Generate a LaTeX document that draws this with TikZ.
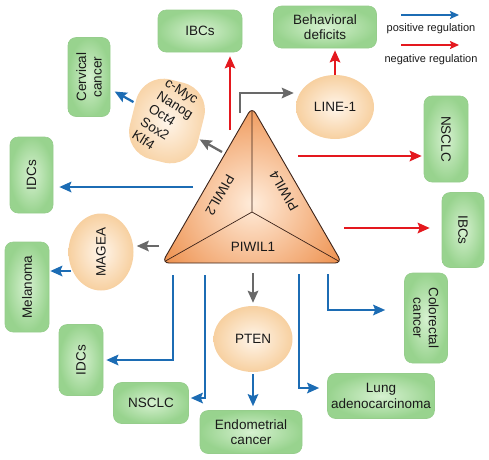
\documentclass[tikz,border=0pt]{standalone}
\usepackage{fontspec}
\setmainfont{Liberation Sans}
\usetikzlibrary{arrows.meta,calc,shapes.geometric}
\definecolor{cblue}{RGB}{28,108,180}
\definecolor{cred}{RGB}{228,24,30}
\definecolor{cgray}{RGB}{105,105,105}
\definecolor{greenin}{RGB}{214,241,208}
\definecolor{greenout}{RGB}{152,211,142}
\definecolor{boxline}{RGB}{150,205,140}
\definecolor{peachin}{RGB}{255,245,234}
\definecolor{peachout}{RGB}{247,208,160}
\definecolor{triin}{RGB}{255,236,218}
\definecolor{triout}{RGB}{238,146,80}
\definecolor{tridark}{RGB}{60,35,25}
\definecolor{txt}{RGB}{25,25,25}
\tikzset{
  box/.style={draw=boxline, line width=0.6pt, rounded corners=8pt,
    inner color=greenin, outer color=greenout, align=center, text=txt,
    font=\fontsize{13.5pt}{15.5pt}\selectfont, inner sep=2pt},
  blob/.style={draw=none, inner color=peachin, outer color=peachout,
    align=center, text=txt, font=\fontsize{13.5pt}{15.5pt}\selectfont, inner sep=0pt},
  trilabel/.style={text=txt, font=\fontsize{13.5pt}{15.5pt}\selectfont, inner sep=0pt},
  legendtext/.style={text=txt, font=\fontsize{11pt}{13pt}\selectfont, inner sep=0pt},
  arr/.style={line width=2.3pt, -{Stealth[length=12pt,width=10.5pt,inset=2pt]}},
  parr/.style={arr, draw=cblue},
  narr/.style={arr, draw=cred},
  garr/.style={arr, draw=cgray},
  legarr/.style={line width=1.6pt, -{Stealth[length=9pt,width=8pt,inset=1.5pt]}},
}
\begin{document}
\begin{tikzpicture}[x=1pt,y=-1pt]
\useasboundingbox (0,0) rectangle (489,459);

% ---------- green boxes ----------
\node[box, minimum width=84pt, minimum height=42pt] (ibcsT) at (200,31) {IBCs};
\node[box, rotate=90, minimum width=79pt, minimum height=42pt] (cerv) at (89,77) {Cervical\\cancer};
\node[box, rotate=90, minimum width=76pt, minimum height=43pt] (idcsL) at (31.5,175) {IDCs};
\node[box, minimum width=103pt, minimum height=42pt] (behav) at (325,27) {Behavioral\\deficits};
\node[box, rotate=-90, minimum width=86pt, minimum height=44pt] (nsclcR) at (446,139) {NSCLC};
\node[box, rotate=-90, minimum width=75pt, minimum height=42pt] (ibcsR) at (463,230) {IBCs};
\node[box, rotate=-90, minimum width=90pt, minimum height=43pt] (colo) at (426,318) {Colorectal\\cancer};
\node[box, minimum width=107pt, minimum height=45pt] (lung) at (381,396) {Lung\\adenocarcinoma};
\node[box, minimum width=102pt, minimum height=43pt] (endo) at (251,432) {Endometrial\\cancer};
\node[box, minimum width=75pt, minimum height=41pt] (nsclcB) at (151,403) {NSCLC};
\node[box, rotate=90, minimum width=71pt, minimum height=44pt] (idcsB) at (81,360) {IDCs};
\node[box, rotate=90, minimum width=90pt, minimum height=44pt] (mel) at (27,287) {Melanoma};

% ---------- peach blobs ----------
\node[blob, rotate=-14, rounded corners=28pt, minimum width=70pt, minimum height=82pt] (cmyc) at (167,121) {};
\node[trilabel, rotate=-32, align=left] (cmyct) at (167,118) {c-Myc\\Nanog\\Oct4\\Sox2\\Klf4};
\node[blob, ellipse, minimum width=78pt, minimum height=64pt] (line1) at (335,107) {LINE-1};
\node[blob, ellipse, rotate=90, minimum width=77pt, minimum height=65pt] (magea) at (101,252) {MAGEA};
\node[blob, ellipse, minimum width=79pt, minimum height=66pt] (pten) at (253,339) {PTEN};

% ---------- triangle ----------
\coordinate (tA) at (252,107);
\coordinate (tL) at (162,263);
\coordinate (tR) at (342,263);
\coordinate (tC) at (252,212);
\begin{scope}
  \clip[rounded corners=7pt] (tA) -- (tL) -- (tR) -- cycle;
  \shade[inner color=triin, outer color=triout] (252,203) circle (105pt);
  \draw[line width=0.7pt, tridark] (tC) -- (tA) (tC) -- (tL) (tC) -- (tR);
\end{scope}
\draw[line width=0.9pt, tridark, rounded corners=7pt] (tA) -- (tL) -- (tR) -- cycle;
\node[trilabel, rotate=-120] (p2) at (220,195) {PIWIL2};
\node[trilabel, rotate=120] (p4) at (284,191) {PIWIL4};
\node[trilabel] (p1) at (253,247) {PIWIL1};

% ---------- start points on the triangle ----------
\coordinate (g1) at (222,152);
\coordinate (g2) at (240,113);
\coordinate (g3) at (159,246);
\coordinate (g4) at (253,273);
\coordinate (r1) at (230,130);
\coordinate (r2) at (298,156);
\coordinate (r3) at (344,228);
\coordinate (b1) at (193,187);
\coordinate (b2) at (71,271);
\coordinate (b3) at (173,275);
\coordinate (b4) at (205,275);
\coordinate (b5) at (299,274);
\coordinate (b6) at (328,274);

% ---------- gray arrows ----------
\draw[garr, shorten >=1pt] (g1) -- (cmyc);
\draw[garr, shorten >=2pt] (g2) |- ([yshift=14pt]line1.west);
\draw[garr, shorten >=3pt] (g3) -- (g3 -| magea.south);
\draw[garr, shorten >=3pt] (g4) -- (pten.north);

% ---------- red arrows ----------
\draw[narr, shorten >=4pt] (r1) -- (r1 |- ibcsT.south);
\draw[narr, shorten >=2pt] (line1.north) -- (line1.north |- behav.south);
\draw[narr, shorten >=2pt] (r2) -- (r2 -| nsclcR.south);
\draw[narr, shorten >=12pt] (r3) -- (r3 -| ibcsR.south);

% ---------- blue arrows ----------
\draw[parr, shorten <=2pt, shorten >=5pt] (cmyc) -- (cerv);
\draw[parr, shorten >=6pt] (b1) -- (b1 -| idcsL.south);
\draw[parr, shorten >=1pt] (b2) -- (b2 -| mel.south);
\draw[parr, shorten >=3pt] (b3) |- (idcsB);
\draw[parr, shorten >=2pt] (b4) |- ([yshift=5pt]nsclcB.east);
\draw[parr, shorten <=2pt, shorten >=4pt] (pten.south) -- (pten.south |- endo.north);
\draw[parr, shorten >=8pt] (b5) |- ([yshift=8pt]lung.west);
\draw[parr, shorten >=19pt] (b6) |- ([yshift=8pt]colo.south);

% ---------- legend ----------
\coordinate (lp1) at (401,15);
\coordinate (lp2) at (459,15);
\coordinate (ln1) at (401,45);
\coordinate (ln2) at (459,45);
\draw[legarr, draw=cblue] (lp1) -- (lp2);
\draw[legarr, draw=cred] (ln1) -- (ln2);
\node[legendtext] (lpt) at (431,29) {positive regulation};
\node[legendtext] (lnt) at (431,60) {negative regulation};
\end{tikzpicture}
\end{document}
